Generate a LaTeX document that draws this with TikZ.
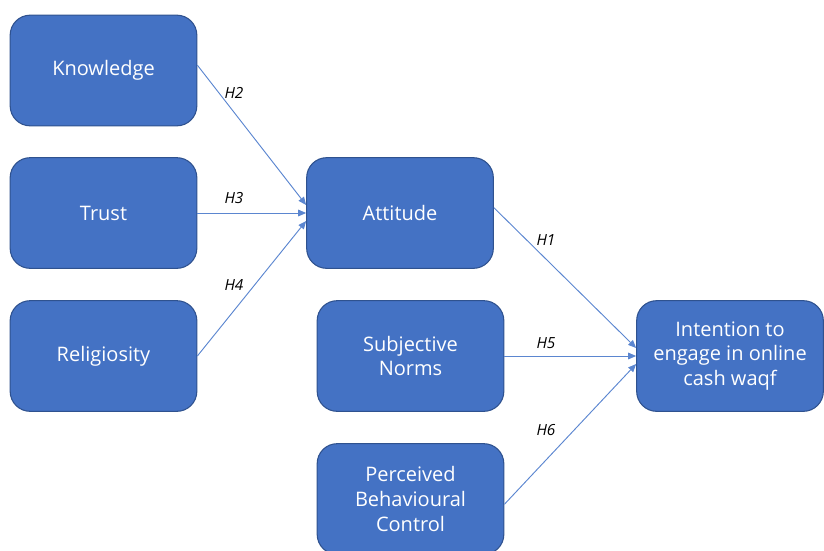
\documentclass[tikz,border=0pt]{standalone}
\usepackage{fontspec}
\setmainfont{Open Sans}
\usetikzlibrary{arrows.meta}
\definecolor{boxblue}{HTML}{4472C4}
\definecolor{boxedge}{HTML}{2F528F}
\definecolor{arrblue}{HTML}{5B86D0}
\begin{document}
\begin{tikzpicture}[x=0.75pt,y=-0.75pt,
  factor/.style={draw=boxedge,line width=0.8pt,fill=boxblue,rounded corners=15pt,minimum width=140pt,minimum height=83pt,align=center,text=white,font=\fontsize{15}{18.4}\selectfont},
  path/.style={draw=arrblue,line width=0.7pt,-{Triangle[length=6pt,width=5pt]}},
  hyp/.style={font=\fontsize{11.5}{14}\selectfont\itshape}]
  \useasboundingbox (0,0) rectangle (824,550);
  \begin{scope}
  \clip (0,0) rectangle (824,550);
  \node[factor] (know) at (103.5,70.5) {Knowledge}; \node[factor] (trust) at (103.5,213) {Trust}; \node[factor] (relig) at (103.5,356) {Religiosity};
  \node[factor] (att) at (400,213) {Attitude}; \node[factor] (sn) at (410.5,356) {Subjective\\Norms}; \node[factor] (pbc) at (410.5,499) {Perceived\\Behavioural\\Control};
  \node[factor] (int) at (730,356) {Intention to\\engage in online\\cash waqf};
  \end{scope}
  \draw[path] ([yshift=4pt]know.east) -- ([yshift=6pt]att.west); \draw[path] (trust.east) -- (att.west); \draw[path] (relig.east) -- ([yshift=-6pt]att.west);
  \draw[path] ([yshift=4pt]att.east) -- ([yshift=6pt]int.west); \draw[path] (sn.east) -- (int.west); \draw[path] ([yshift=-4pt]pbc.east) -- ([yshift=-6pt]int.west);
  \node[hyp] (h2) at (234,93) {H2}; \node[hyp] (h3) at (234,198) {H3}; \node[hyp] (h4) at (234,285) {H4};
  \node[hyp] (h1) at (546,240) {H1}; \node[hyp] (h5) at (546,343) {H5}; \node[hyp] (h6) at (546,430) {H6};
\end{tikzpicture}
\end{document}
